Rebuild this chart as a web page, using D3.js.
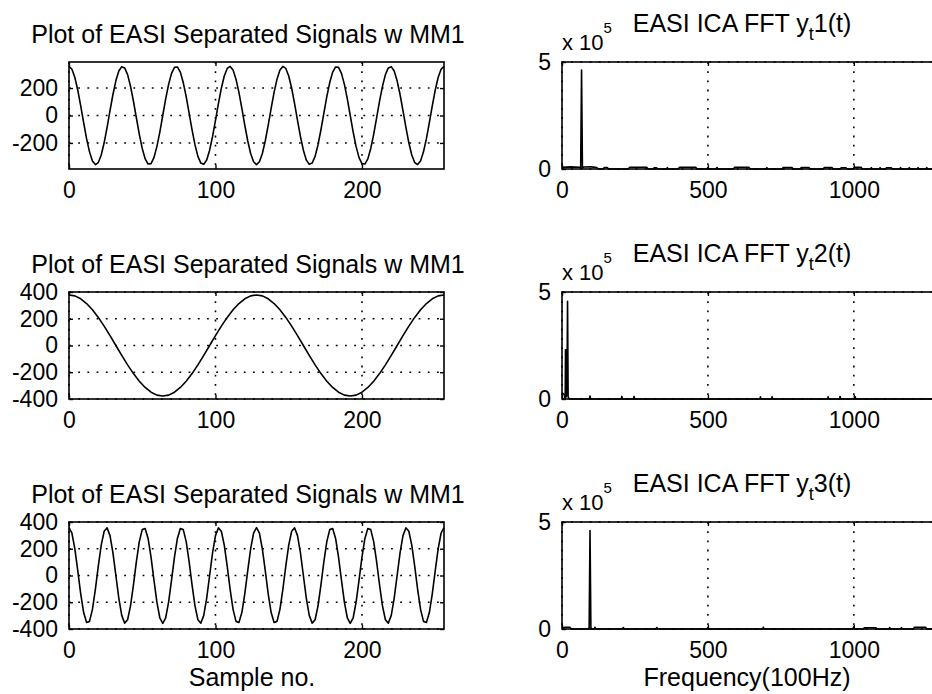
<!DOCTYPE html>
<html>
<head>
<meta charset="utf-8">
<script src="https://cdn.jsdelivr.net/npm/d3@7"></script>
<style>
  html, body { margin: 0; padding: 0; background: #fff; }
  svg { display: block; }
</style>
</head>
<body>
<svg id="fig" width="932" height="694"></svg>
<script>
// ---- separated signals (amplitude per sample) ----
// y1: sampled every 2 samples, n = 0..256
const sig1Step = 2;
const sig1 = [358, 337, 277, 184, 70, -52, -169, -265, -331, -358, -343, -288, -199, -87, 35,
  153, 253, 324, 356, 347, 298, 213, 104, -18, -137, -240, -316, -354, -351, -307, -227, -121,
  0, 121, 227, 307, 351, 354, 316, 240, 137, 18, -104, -213, -298, -347, -356, -324, -253, -153,
  -35, 87, 199, 288, 343, 358, 331, 265, 169, 52, -70, -184, -277, -337, -358,
  -337, -277, -184, -70, 52, 169, 265, 331, 358, 343, 288, 199, 87, -35, -153, -253, -324, -356,
  -347, -298, -213, -104, 18, 137, 240, 316, 354, 351, 307, 227, 121, 0, -121, -227, -307, -351,
  -354, -316, -240, -137, -18, 104, 213, 298, 347, 356, 324, 253, 153, 35, -87, -199, -288, -343,
  -358, -331, -265, -169, -52, 70, 184, 277, 337, 358];

// y2: sampled every 4 samples, n = 0..256
const sig2Step = 4;
const sig2 = [378, 371, 349, 314, 267, 210, 145, 74, 0, -74, -145, -210, -267, -314, -349, -371, -378,
  -371, -349, -314, -267, -210, -145, -74, 0, 74, 145, 210, 267, 314, 349, 371, 378,
  371, 349, 314, 267, 210, 145, 74, 0, -74, -145, -210, -267, -314, -349, -371, -378,
  -371, -349, -314, -267, -210, -145, -74, 0, 74, 145, 210, 267, 314, 349, 371, 378];

// y3: sampled every 2 samples, n = 0..256
const sig3Step = 2;
const sig3 = [358, 316, 199, 35, -137, -277, -351, -343, -253, -104, 70, 227, 331, 356, 298, 169, 0,
  -169, -298, -356, -331, -227, -70, 104, 253, 343, 351, 277, 137, -35, -199, -316, -358,
  -316, -199, -35, 137, 277, 351, 343, 253, 104, -70, -227, -331, -356, -298, -169, 0,
  169, 298, 356, 331, 227, 70, -104, -253, -343, -351, -277, -137, 35, 199, 316, 358,
  316, 199, 35, -137, -277, -351, -343, -253, -104, 70, 227, 331, 356, 298, 169, 0,
  -169, -298, -356, -331, -227, -70, 104, 253, 343, 351, 277, 137, -35, -199, -316, -358,
  -316, -199, -35, 137, 277, 351, 343, 253, 104, -70, -227, -331, -356, -298, -169, 0,
  169, 298, 356, 331, 227, 70, -104, -253, -343, -351, -277, -137, 35, 199, 316, 358];

// ---- FFT magnitudes: [frequency (100Hz), magnitude (x 1e5)] ----
const fft1 = [[0,0.08],[30,0.1],[60,0.08],[64,0.05],[67,4.62],[70,0.05],[75,0.09],[100,0.1],[119,0.07],
  [125,0],[141,0],[145,0.07],[155,0.07],[160,0],[227,0],[232,0.08],[290,0.08],[295,0],[312,0],[316,0.06],
  [324,0.06],[328,0],[358,0],[361,0.06],[364,0],[398,0],[403,0.08],[458,0.08],[463,0],[497,0],[500,0.07],
  [503,0],[528,0],[531,0.07],[534,0],[587,0],[592,0.08],[640,0.08],[645,0],[699,0],[702,0.06],[705,0],
  [754,0],[758,0.07],[788,0.07],[792,0],[816,0],[820,0.07],[846,0.07],[850,0],[895,0],[899,0.07],
  [925,0.07],[929,0],[953,0],[957,0.06],[973,0.06],[977,0],[998,0],[1002,0.08],[1025,0.08],[1029,0],
  [1057,0],[1060,0.06],[1063,0],[1087,0],[1090,0.06],[1093,0],[1108,0],[1112,0.06],[1128,0.06],[1132,0],
  [1157,0],[1160,0.06],[1163,0],[1187,0],[1190,0.06],[1193,0],[1217,0],[1220,0.06],[1223,0],[1247,0],
  [1250,0.06],[1253,0],[1285,0]];

const fft2 = [[0,0.3],[8,0.2],[11,0],[12,2.3],[13,0.1],[14,2.3],[15,0.1],[16,2.3],[17,0.2],[19,4.56],
  [21,0.1],[25,0],[94,0],[96,0.14],[98,0],[203,0],[205,0.12],[207,0],[245,0],[247,0.12],[249,0],
  [678,0],[680,0.1],[682,0],[718,0],[720,0.1],[722,0],[910,0],[912,0.1],[914,0],[951,0],[953,0.12],
  [955,0],[1003,0],[1005,0.1],[1007,0],[1285,0]];

const fft3 = [[0,0.05],[10,0.08],[27,0.08],[32,0],[90,0],[93,0.06],[96,4.6],[99,0.06],[102,0],[110,0],
  [113,0.08],[116,0],[207,0],[210,0.07],[213,0],[322,0],[325,0.07],[328,0],[497,0],[500,0.06],[503,0],
  [687,0],[690,0.08],[693,0],[997,0],[1000,0.1],[1003,0],[1032,0],[1036,0.06],[1076,0.06],[1080,0],
  [1120,0],[1123,0.06],[1126,0],[1160,0],[1163,0.06],[1166,0],[1204,0],[1208,0.08],[1246,0.08],
  [1250,0],[1285,0]];

// ---- ticks and labels ----
const sampleTicks = [0, 100, 200];
const ampTicksRow1 = [-200, 0, 200];
const ampTicks = [-400, -200, 0, 200, 400];
const freqTicks = [0, 500, 1000];
const magTicks = [0, 5];
const signalTitle = "Plot of EASI Separated Signals w MM1";
const fftNames = ["1", "2", "3"];
const sampleLabel = "Sample no.";
const freqLabel = "Frequency(100Hz)";

// ---- layout ----
const FONT = '"Liberation Sans", Arial, Helvetica, sans-serif';
const PW = 375, PH = 107;
const LEFT_X = 69, RIGHT_X = 562;
const ROW_TOP = [62, 292, 522];

const svg = d3.select("#fig").attr("font-family", FONT);

function drawPanel(o) {
  const g = svg.append("g").attr("transform", `translate(${o.x0},${o.y0})`);
  const x = d3.scaleLinear().domain(o.xDom).range([0, PW]);
  const y = d3.scaleLinear().domain(o.yDom).range([PH, 0]);

  // dotted grid
  const grid = g.append("g")
    .attr("stroke", "#000").attr("stroke-width", 1.6)
    .attr("stroke-dasharray", "1.8,7.4").attr("fill", "none");
  grid.selectAll("line.gx").data(o.gridX).join("line").attr("class", "gx")
    .attr("x1", d => x(d)).attr("x2", d => x(d)).attr("y1", 0).attr("y2", PH);
  grid.selectAll("line.gy").data(o.gridY).join("line").attr("class", "gy")
    .attr("y1", d => y(d)).attr("y2", d => y(d)).attr("x1", 0).attr("x2", PW);

  // data line
  const clipId = "clip-" + o.id;
  g.append("clipPath").attr("id", clipId).append("rect")
    .attr("x", -1).attr("y", -1).attr("width", PW + 2).attr("height", PH + 2);
  g.append("path").datum(o.points)
    .attr("clip-path", `url(#${clipId})`)
    .attr("fill", "none").attr("stroke", "#000").attr("stroke-width", 1.6)
    .attr("stroke-linejoin", "round")
    .attr("d", d3.line().x(d => x(d[0])).y(d => y(d[1])));

  // axes with inward ticks on all four sides
  const styleAxis = s => {
    s.select(".domain").remove();
    s.selectAll("line").attr("stroke", "#000").attr("stroke-width", 1.4);
    s.selectAll("text").attr("fill", "#000");
    s.attr("font-family", FONT).attr("font-size", 23);
  };
  const fmt = d => String(d);
  g.append("g").attr("transform", `translate(0,${PH})`)
    .call(d3.axisBottom(x).tickValues(o.xTicks).tickSize(-4).tickPadding(13).tickFormat(fmt)).call(styleAxis);
  g.append("g")
    .call(d3.axisTop(x).tickValues(o.xTicks).tickSize(-4).tickFormat("")).call(styleAxis);
  g.append("g")
    .call(d3.axisLeft(y).tickValues(o.yTicks).tickSize(-4).tickPadding(11).tickFormat(fmt)).call(styleAxis);
  g.append("g").attr("transform", `translate(${PW},0)`)
    .call(d3.axisRight(y).tickValues(o.yTicks).tickSize(-4).tickFormat("")).call(styleAxis);

  // box
  g.append("rect").attr("width", PW).attr("height", PH)
    .attr("fill", "none").attr("stroke", "#000").attr("stroke-width", 1.6);
  return g;
}

const signals = [
  { values: sig1, step: sig1Step, yDom: [-390, 390], yTicks: ampTicksRow1 },
  { values: sig2, step: sig2Step, yDom: [-400, 400], yTicks: ampTicks },
  { values: sig3, step: sig3Step, yDom: [-400, 400], yTicks: ampTicks }
];
const ffts = [fft1, fft2, fft3];

signals.forEach((s, i) => {
  const top = ROW_TOP[i];
  drawPanel({
    id: "s" + i, x0: LEFT_X, y0: top,
    xDom: [0, 256], yDom: s.yDom,
    xTicks: sampleTicks, yTicks: s.yTicks,
    gridX: sampleTicks, gridY: s.yTicks,
    points: s.values.map((v, k) => [k * s.step, v])
  });
  svg.append("text")
    .attr("x", 248).attr("y", top - 19)
    .attr("text-anchor", "middle").attr("font-size", 25).attr("fill", "#000")
    .text(signalTitle);
});

ffts.forEach((f, i) => {
  const top = ROW_TOP[i];
  drawPanel({
    id: "f" + i, x0: RIGHT_X, y0: top,
    xDom: [0, 1285], yDom: [0, 5],
    xTicks: freqTicks, yTicks: magTicks,
    gridX: freqTicks, gridY: magTicks,
    points: f
  });
  // exponent label
  const ex = svg.append("text").attr("x", RIGHT_X).attr("y", top - 12).attr("fill", "#000");
  ex.append("tspan").attr("font-size", 22).text("x 10");
  ex.append("tspan").attr("font-size", 15).attr("dy", -17).text("5");
  // title with subscript
  const t = svg.append("text").attr("x", 742).attr("y", top - 30)
    .attr("text-anchor", "middle").attr("font-size", 25).attr("fill", "#000");
  t.append("tspan").text("EASI ICA FFT y");
  t.append("tspan").attr("font-size", 18).attr("dy", 8).text("t");
  t.append("tspan").attr("dy", -8).text(fftNames[i] + "(t)");
});

svg.append("text").attr("x", 252).attr("y", 686)
  .attr("text-anchor", "middle").attr("font-size", 25).attr("fill", "#000").text(sampleLabel);
svg.append("text").attr("x", 747).attr("y", 686)
  .attr("text-anchor", "middle").attr("font-size", 25).attr("fill", "#000").text(freqLabel);
</script>
</body>
</html>
